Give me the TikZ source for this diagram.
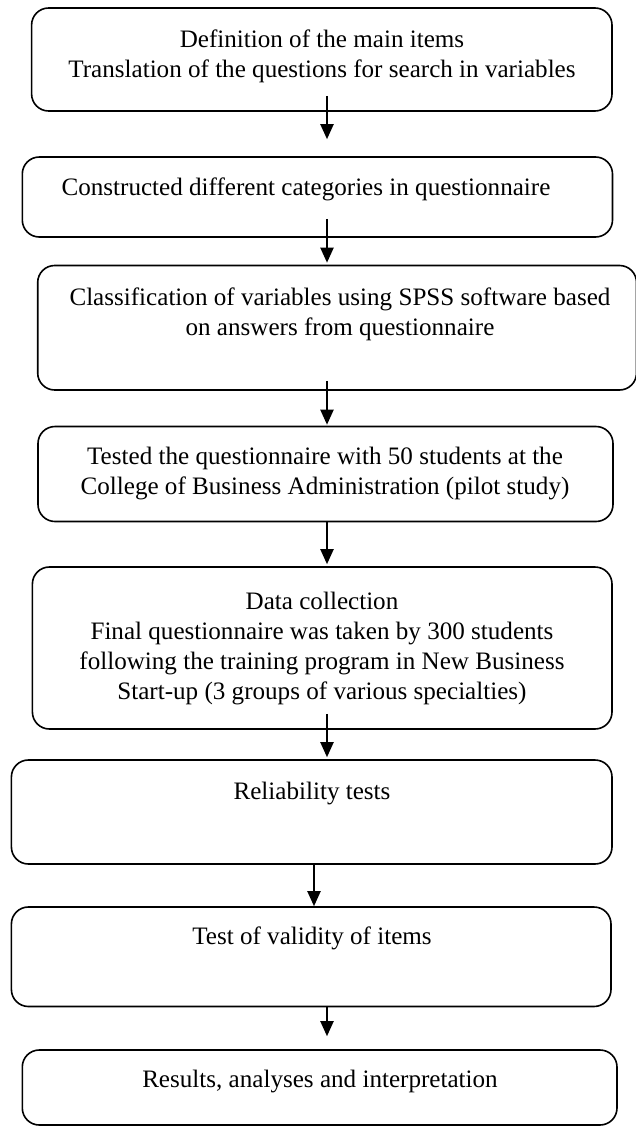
\documentclass[tikz,border=0pt]{standalone}
\usepackage{fontspec}
\setmainfont{Liberation Serif}
\usetikzlibrary{arrows.meta,calc}
\begin{document}
\begin{tikzpicture}[x=1pt,y=-1pt,
  boxst/.style={draw=black, line width=1.6pt, rounded corners=17pt, inner sep=0pt, fill=none},
  txt/.style={align=center, inner sep=0pt, font=\fontsize{25.1}{30}\selectfont},
  arr/.style={line width=2pt, -{Triangle[width=13pt,length=15pt]}}]
\useasboundingbox (0,0) rectangle (636,1127);
% boxes (left,top) rectangle (right,bottom)
\node[boxst, minimum width=580.4pt, minimum height=103pt] (b1) at (321.8,59.5) {};
\node[boxst, minimum width=590.2pt, minimum height=80pt] (b2) at (317.4,197) {};
\node[boxst, minimum width=598.8pt, minimum height=124.5pt] (b3) at (337.1,327.75) {};
\node[boxst, minimum width=575pt, minimum height=95pt] (b4) at (325.5,474) {};
\node[boxst, minimum width=579.6pt, minimum height=162pt] (b5) at (322.2,648) {};
\node[boxst, minimum width=600.6pt, minimum height=104pt] (b6) at (311.7,812) {};
\node[boxst, minimum width=599.6pt, minimum height=99.5pt] (b7) at (311.2,956.75) {};
\node[boxst, minimum width=594.7pt, minimum height=75pt] (b8) at (319.65,1087.5) {};
% texts
\node[txt] (t1) at (322,56) {\strut Definition of the main items\\\strut Translation of the questions for search in variables};
\node[txt] (t2) at (306,189) {\strut Constructed different categories in questionnaire};
\node[txt] (t3) at (340,314) {\strut Classification of variables using SPSS software based\\\strut on answers from questionnaire};
\node[txt] (t4) at (325,473.5) {\strut Tested the questionnaire with 50 students at the\\\strut College of Business Administration (pilot study)};
\node[txt] (t5) at (322,648.5) {\strut Data collection\\\strut Final questionnaire was taken by 300 students\\\strut following the training program in New Business\\\strut Start-up (3 groups of various specialties)};
\node[txt] (t6) at (312,793) {\strut Reliability tests};
\node[txt] (t7) at (312,938) {\strut Test of validity of items};
\node[txt] (t8) at (320,1081) {\strut Results, analyses and interpretation};
% arrow columns
\coordinate (c1) at (327,0);
\coordinate (c2) at (314,0);
% arrows
\draw[arr] ($(b1.south -| c1)+(0,-16)$) -- ($(b2.north -| c1)+(0,-17)$);
\draw[arr] ($(b2.south -| c1)+(0,-19)$) -- ($(b3.north -| c1)+(0,-2)$);
\draw[arr] ($(b3.south -| c1)+(0,-10)$) -- ($(b4.north -| c1)+(0,-1)$);
\draw[arr] (b4.south -| c1) -- ($(b5.north -| c1)+(0,-2)$);
\draw[arr] ($(b5.south -| c1)+(0,-16)$) -- ($(b6.north -| c1)+(0,-2)$);
\draw[arr] (b6.south -| c2) -- (b7.north -| c2);
\draw[arr] (b7.south -| c1) -- ($(b8.north -| c1)+(0,-13)$);
\end{tikzpicture}
\end{document}
